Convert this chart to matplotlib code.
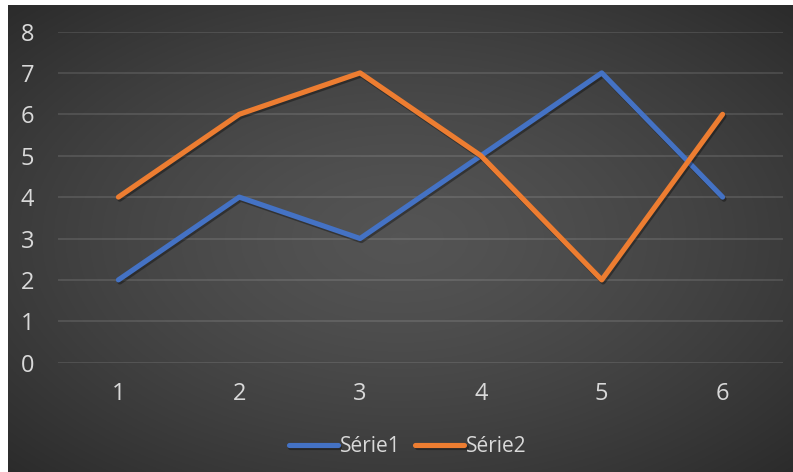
import numpy as np
import matplotlib.pyplot as plt
import matplotlib.patheffects as pe

categories = [1, 2, 3, 4, 5, 6]
serie1 = [2, 4, 3, 5, 7, 4]
serie2 = [4, 6, 7, 5, 2, 6]
series_names = ["Série1", "Série2"]
y_ticks = [0, 1, 2, 3, 4, 5, 6, 7, 8]

plt.rcParams["font.family"] = ["Open Sans", "DejaVu Sans"]
text_color = "#d9d9d9"

W, H = 793, 472
fig = plt.figure(figsize=(W / 100, H / 100), dpi=100, facecolor="white")

# dark radial gradient behind the whole chart area
bg = fig.add_axes([8 / W, 0, (W - 8) / W, (H - 5) / H])
bg.set_axis_off()
yy, xx = np.mgrid[-1:1:300j, -1:1:500j]
r = np.clip(np.sqrt(xx ** 2 + yy ** 2) / np.sqrt(2), 0, 1)
light, dark = 0.33, 0.17
shade = light - (light - dark) * r ** 1.4
bg.imshow(np.dstack([shade] * 3), aspect="auto", extent=(0, 1, 0, 1))

left, right = 58, 783
top, bottom = 31.5, 362.7
ax = fig.add_axes([left / W, 1 - bottom / H, (right - left) / W, (bottom - top) / H])
ax.patch.set_alpha(0)

shadow = [pe.SimpleLineShadow(offset=(1, -1.5), alpha=0.35, shadow_color="black"), pe.Normal()]
ax.plot(categories, serie1, color="#4472C4", lw=3.7, label=series_names[0],
        solid_joinstyle="round", solid_capstyle="round", path_effects=shadow)
ax.plot(categories, serie2, color="#ED7D31", lw=3.7, label=series_names[1],
        solid_joinstyle="round", solid_capstyle="round", path_effects=shadow)

ax.set_xlim(0.5, 6.5)
ax.set_ylim(0, 8)
ax.set_xticks(categories)
ax.set_yticks(y_ticks)
ax.yaxis.grid(True, color="white", alpha=0.12, lw=1.3)
ax.set_axisbelow(True)
for s in ax.spines.values():
    s.set_visible(False)
ax.tick_params(length=0, labelcolor=text_color, labelsize=17)
ax.tick_params(axis="y", pad=17)
ax.tick_params(axis="x", pad=14)

fig.legend(loc="center", bbox_to_anchor=(408 / W, 1 - 447 / H), ncol=2, frameon=False,
           fontsize=15, labelcolor=text_color, handlelength=2.35,
           handletextpad=0.1, columnspacing=0.7)

fig.savefig("out.png", dpi=100)
